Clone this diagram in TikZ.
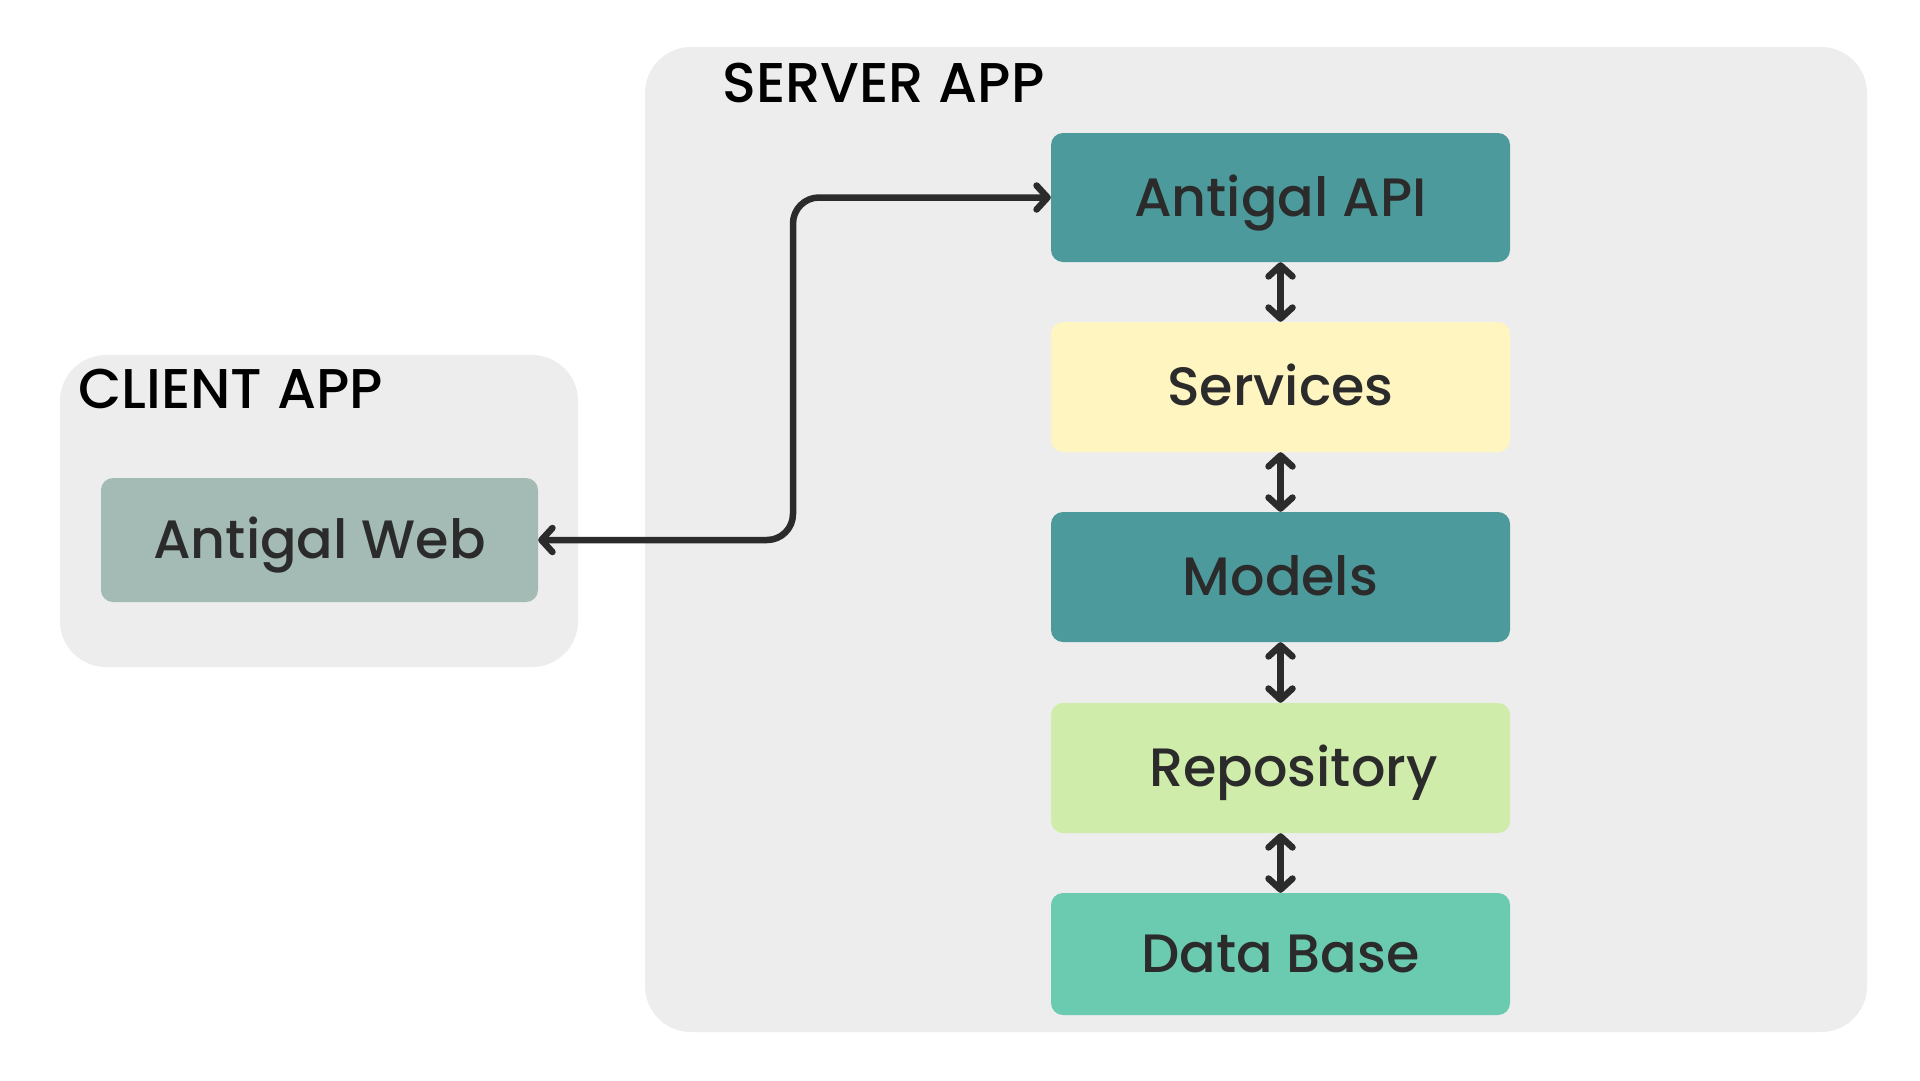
\documentclass[tikz,border=0pt]{standalone}
\usepackage{fontspec}
\setmainfont{Poppins}
\newfontfamily\medfont{Poppins Medium}
\usetikzlibrary{arrows.meta}
\definecolor{panelgray}{HTML}{EDEDED}
\definecolor{teal}{HTML}{4C9A9B}
\definecolor{cream}{HTML}{FFF5C0}
\definecolor{lightgreen}{HTML}{D0ECAA}
\definecolor{mint}{HTML}{6BCBB0}
\definecolor{sage}{HTML}{A4BAB5}
\definecolor{ink}{HTML}{2B2B2B}
\begin{document}
\begin{tikzpicture}[x=1pt,y=-1pt,
  panel/.style={fill=panelgray, rounded corners=46pt, inner sep=0pt},
  layer/.style={rounded corners=12pt, inner sep=0pt, minimum width=459pt,
    font=\medfont\fontsize{54}{60}\selectfont, text=ink, text height=37pt, text depth=0pt},
  title/.style={font=\medfont\fontsize{56}{64}\selectfont, text=black, inner sep=0pt, anchor=base west},
  conn/.style={draw=ink, line width=6.5pt, line cap=round, line join=round,
    {Straight Barb[length=11pt,width=24pt,line cap=round,line join=round]}-{Straight Barb[length=11pt,width=24pt,line cap=round,line join=round]}}
]
\useasboundingbox (0,0) rectangle (1920,1080);
\fill[white] (0,0) rectangle (1920,1080);
% panels
\node[panel, minimum width=1222pt, minimum height=985pt] (server) at (1256,539.5) {};
\node[panel, minimum width=518pt, minimum height=312pt] (client) at (319,511) {};
\node[title] (servertitle) at (722,102) {SERVER APP};
\node[title] (clienttitle) at (78,408) {CLIENT APP};
% layers
\node[layer, fill=teal, minimum height=129pt] (api) at (1280.5,197.5) {Antigal API};
\node[layer, fill=cream, minimum height=130pt] (services) at (1280.5,387) {Services};
\node[layer, fill=teal, minimum height=130pt] (models) at (1280.5,577) {Models};
\node[layer, fill=lightgreen, minimum height=130pt] (repo) at (1280.5,768) {\hspace*{26pt}Repository};
\node[layer, fill=mint, minimum height=122pt] (db) at (1280.5,954) {Data Base};
\node[layer, fill=sage, minimum width=437pt, minimum height=124pt] (web) at (319.5,540) {Antigal Web};
% connectors
\draw[conn] (api.south) -- (services.north);
\draw[conn] (services.south) -- (models.north);
\draw[conn] (models.south) -- (repo.north);
\draw[conn] (repo.south) -- (db.north);
\coordinate (bend) at (793,0);
\draw[conn, rounded corners=26pt] (web.east) -| (bend |- api.west) -- (api.west);
\end{tikzpicture}
\end{document}
